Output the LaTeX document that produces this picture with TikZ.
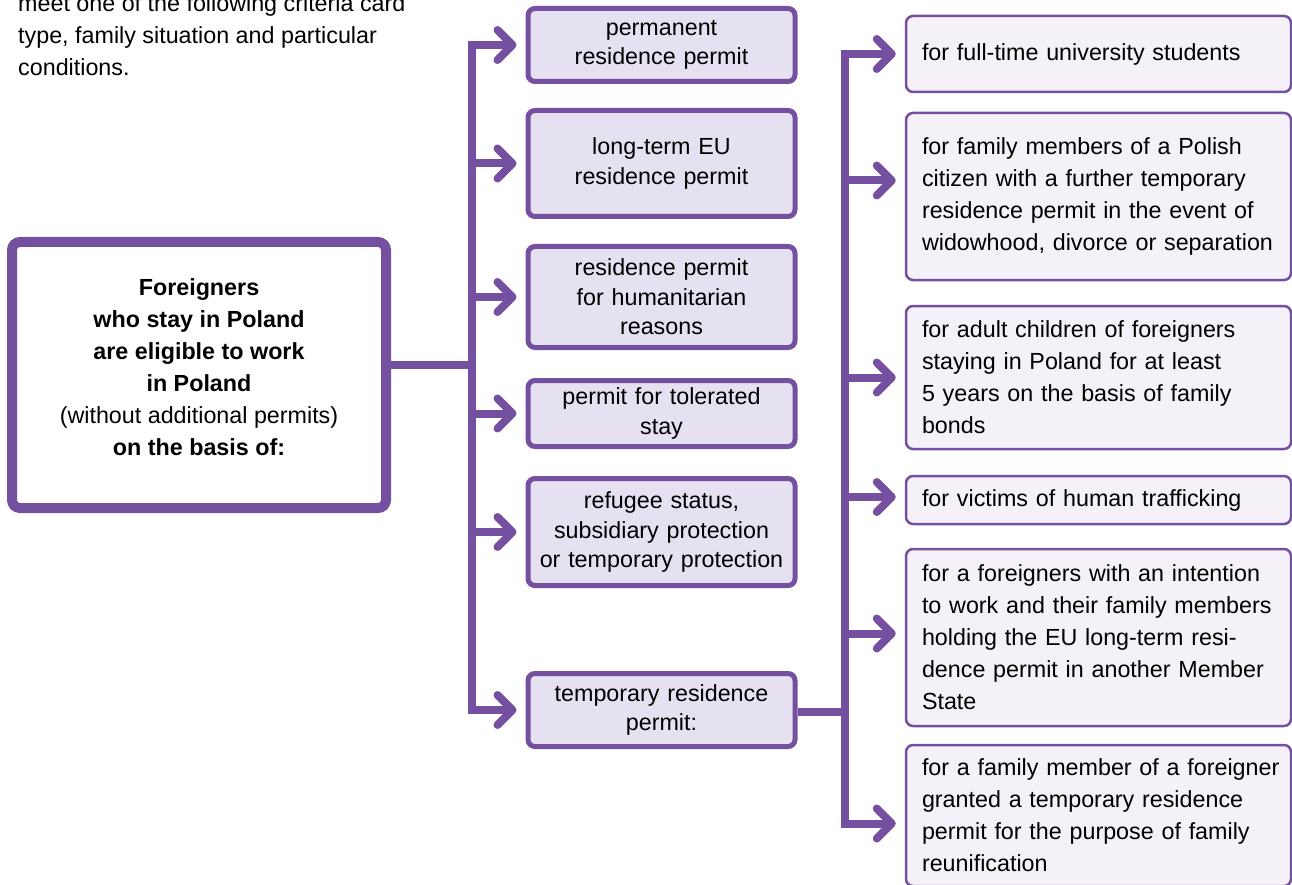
\documentclass[tikz,border=0pt]{standalone}
\usepackage{fontspec}
\setmainfont{Liberation Sans}
\usetikzlibrary{arrows.meta}

\definecolor{vio}{HTML}{7550A0}
\definecolor{midfill}{HTML}{E6E1F0}
\definecolor{sidefill}{HTML}{F4F1F8}

\tikzset{
  basebox/.style={draw=vio, line width=10pt, fill=white, rounded corners=8pt,
    minimum width=374pt, minimum height=266pt, inner sep=0pt},
  permitbox/.style={draw=vio, line width=5pt, fill=midfill, rounded corners=7pt,
    minimum width=267pt, inner sep=0pt, align=center, text width=262pt,
    font=\fontsize{23.3pt}{29.5pt}\selectfont},
  casebox/.style={draw=vio, line width=2.5pt, fill=sidefill, rounded corners=7pt,
    minimum width=385pt, inner xsep=16pt, inner ysep=0pt, align=left, text width=353pt,
    font=\fontsize{23.3pt}{32pt}\selectfont,
    execute at begin node={\hyphenpenalty=10000\exhyphenpenalty=10000\hfuzz=30pt}},
  link/.style={draw=vio, line width=8pt},
  tip/.style={-{Straight Barb[length=15pt,width=30pt,round]}, shorten >=9pt},
  plain/.style={inner sep=0pt, font=\fontsize{23.3pt}{32pt}\selectfont}
}

\begin{document}
\begin{tikzpicture}[x=1pt, y=-1pt]
\useasboundingbox (0,0) rectangle (1292,885);

% introductory text, running on from above
\node[plain, anchor=base west, align=left] (intro) at (18,76)
  {meet one of the following criteria card\\
   type, family situation and particular\\
   conditions.};

% the starting box
\node[basebox] (lbox) at (199,375) {};
\node[plain, align=center] (ltext) at (199,367)
  {\textbf{Foreigners}\\
   \textbf{who stay in Poland}\\
   \textbf{are eligible to work}\\
   \textbf{in Poland}\\
   (without additional permits)\\
   \textbf{on the basis of:}};

% kinds of permit
\node[permitbox, minimum height=73pt]  (m1) at (661.5,45)    {permanent\\residence permit};
\node[permitbox, minimum height=106pt] (m2) at (661.5,163.5) {long-term EU\\residence permit};
\node[permitbox, minimum height=101pt] (m3) at (661.5,297)   {residence permit\\for humanitarian\\reasons};
\node[permitbox, minimum height=66pt]  (m4) at (661.5,413.5) {permit for tolerated\\stay};
\node[permitbox, minimum height=107pt] (m5) at (661.5,532)   {refugee status,\\subsidiary protection\\or temporary protection};
\node[permitbox, minimum height=73pt]  (m6) at (661.5,710)   {temporary residence\\permit:};

% temporary residence cases
\node[casebox, minimum height=76pt]  (r1) at (1098.5,54)    {for full-time university students};
\node[casebox, minimum height=167pt] (r2) at (1098.5,196.5) {for family members of a Polish\\citizen with a further temporary\\residence permit in the event of\\\mbox{widowhood, divorce or separation}};
\node[casebox, minimum height=143pt] (r3) at (1098.5,377.5) {for adult children of foreigners\\staying in Poland for at least\\5 years on the basis of family\\bonds};
\node[casebox, minimum height=48pt]  (r4) at (1098.5,500)   {for victims of human trafficking};
\node[casebox, minimum height=177pt] (r5) at (1098.5,637.5) {for a foreigners with an intention\\\mbox{to work and their family members}\\holding the EU long-term resi-\\dence permit in another Member\\State};
\node[casebox, minimum height=141pt] (r6) at (1098.5,815.5) {\mbox{for a family member of a foreigner}\\granted a temporary residence\\permit for the purpose of family\\reunification};

% connectors
\coordinate (ltrunk) at (472,365);
\coordinate (rtrunk) at (845,712);

\draw[link] (ltrunk -| lbox.east) -- (ltrunk);
\foreach \m in {m1,m2,m3,m4,m5,m6}
  \draw[link, tip] (ltrunk) |- (\m.west);

\draw[link] (rtrunk -| m6.east) -- (rtrunk);
\draw[link, tip] (rtrunk) |- (r1.west);
\draw[link, tip] (rtrunk) |- ([yshift=16pt]r2.west);
\draw[link, tip] (rtrunk) |- (r3.west);
\draw[link, tip] (rtrunk) |- ([yshift=3pt]r4.west);
\draw[link, tip] (rtrunk) |- ([yshift=4pt]r5.west);
\draw[link, tip] (rtrunk) |- ([yshift=-8pt]r6.west);
\end{tikzpicture}
\end{document}
